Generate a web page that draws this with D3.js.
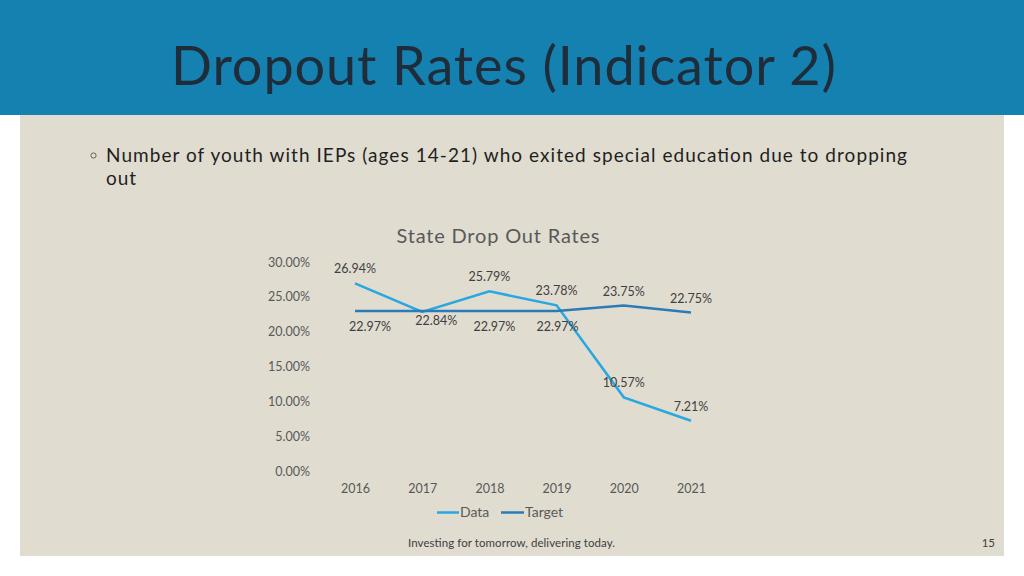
<!DOCTYPE html>
<html lang="en">

<head>
    <meta charset="utf-8">
    <title>Dropout Rates (Indicator 2)</title>
    <script type="text/javascript" src="https://d3js.org/d3.v7.min.js"></script>
    <style>
        html, body { margin: 0; padding: 0; background: #fff; }
        svg { display: block; }
        text { font-family: Lato, sans-serif; }
        .tick text { font-size: 12.5px; fill: #595959; }
    </style>
</head>

<body>
    <div id="container"></div>
    <script type="text/javascript">
        const years = ["2016", "2017", "2018", "2019", "2020", "2021"];
        const dataValues = [26.94, 22.84, 25.79, 23.78, 10.57, 7.21];
        const targetValues = [22.97, 22.97, 22.97, 22.97, 23.75, 22.75];
        const yTicks = [0, 5, 10, 15, 20, 25, 30];

        const w = 1024, h = 576;
        const svg = d3.select("div#container").append("svg")
            .attr("width", w).attr("height", h)
            .attr("viewBox", "0 0 " + w + " " + h);

        // slide background
        svg.append("rect").attr("x", 20).attr("y", 115).attr("width", 984).attr("height", 441).attr("fill", "#e0dcd0");
        svg.append("rect").attr("width", w).attr("height", 115).attr("fill", "#1481b0");

        svg.append("text").attr("x", 171).attr("y", 85)
            .attr("font-size", 54).attr("fill", "#1f2d3a")
            .attr("textLength", 665)
            .text("Dropout Rates (Indicator 2)");

        svg.append("circle").attr("cx", 93.5).attr("cy", 155.5).attr("r", 2.6)
            .attr("fill", "none").attr("stroke", "#555").attr("stroke-width", 0.9);
        svg.append("text").attr("x", 106).attr("y", 162)
            .attr("font-size", 19).attr("fill", "#1f1f1f")
            .attr("textLength", 801)
            .text("Number of youth with IEPs (ages 14-21) who exited special education due to dropping");
        svg.append("text").attr("x", 106).attr("y", 185)
            .attr("font-size", 19).attr("fill", "#1f1f1f")
            .attr("textLength", 30)
            .text("out");

        svg.append("text").attr("x", 498).attr("y", 243)
            .attr("text-anchor", "middle").attr("font-size", 20).attr("fill", "#595959")
            .attr("textLength", 203)
            .text("State Drop Out Rates");

        // scales
        const x = d3.scalePoint().domain(years).range([355, 691]);
        const y = d3.scaleLinear().domain([0, 30]).range([471, 262]);

        const yAxis = svg.append("g").attr("transform", "translate(313,0)")
            .call(d3.axisLeft(y).tickValues(yTicks).tickSize(0).tickFormat((d) => d3.format(".2f")(d) + "%"));
        yAxis.select(".domain").remove();

        const xAxis = svg.append("g").attr("transform", "translate(0,481)")
            .call(d3.axisBottom(x).tickSize(0));
        xAxis.select(".domain").remove();

        // lines
        const line = d3.line().x((d, i) => x(years[i])).y((d) => y(d));
        svg.append("path").attr("d", line(dataValues))
            .attr("fill", "none").attr("stroke", "#29a8df").attr("stroke-width", 2.5);
        svg.append("path").attr("d", line(targetValues))
            .attr("fill", "none").attr("stroke", "#2b7cb6").attr("stroke-width", 2.5);

        // data labels, the 2017 one of Data sits below right and Target has none for 2017
        function addLabel(i, value, dx, dy) {
            svg.append("text")
                .attr("x", x(years[i]) + dx)
                .attr("y", y(value) + dy)
                .attr("text-anchor", "middle")
                .attr("font-size", 12.5).attr("fill", "#404040")
                .text(d3.format(".2f")(value) + "%");
        }
        dataValues.forEach((d, i) => {
            if (i === 1) addLabel(i, d, 14, 13);
            else addLabel(i, d, 0, -10);
        });
        const targetShift = [15, 0, 5, 1];
        targetValues.forEach((d, i) => {
            if (i === 1) return;
            if (i > 3) addLabel(i, d, 0, -10);
            else addLabel(i, d, targetShift[i], 20);
        });

        // legend
        const legend = [["Data", "#29a8df", 437, 460], ["Target", "#2b7cb6", 501, 525]];
        legend.forEach((l) => {
            svg.append("line").attr("x1", l[2]).attr("x2", l[3] - 1).attr("y1", 512.5).attr("y2", 512.5)
                .attr("stroke", l[1]).attr("stroke-width", 2.5);
            svg.append("text").attr("x", l[3]).attr("y", 517)
                .attr("font-size", 14).attr("fill", "#595959").text(l[0]);
        });

        // footer
        svg.append("text").attr("x", 408).attr("y", 547)
            .attr("font-size", 11.5).attr("fill", "#404040")
            .attr("textLength", 207)
            .text("Investing for tomorrow, delivering today.");
        svg.append("text").attr("x", 995).attr("y", 547).attr("text-anchor", "end")
            .attr("font-size", 11.5).attr("fill", "#404040").text("15");
    </script>
</body>

</html>
